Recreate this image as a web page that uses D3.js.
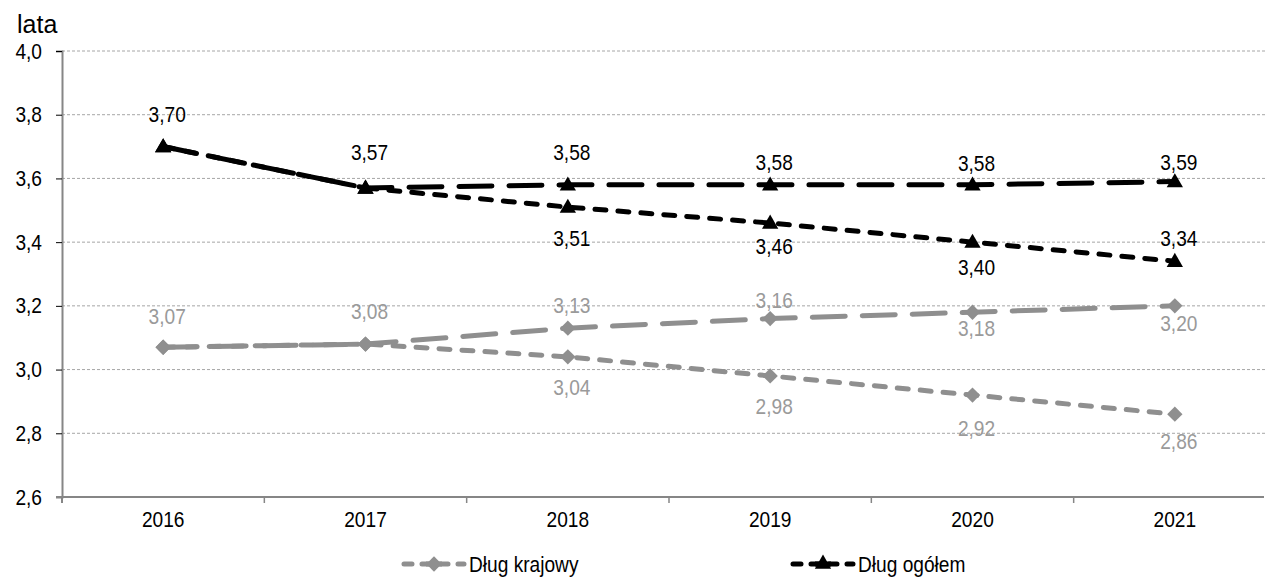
<!DOCTYPE html>
<html>
<head>
<meta charset="utf-8">
<script src="https://cdn.jsdelivr.net/npm/d3@7"></script>
<style>
  body { margin: 0; background: #fff; }
  svg { font-family: "Liberation Sans", Arial, sans-serif; }
</style>
</head>
<body>
<svg id="chart" width="1266" height="578"></svg>
<script>
// data
const years = ['2016', '2017', '2018', '2019', '2020', '2021'];
const yTicks = [2.6, 2.8, 3.0, 3.2, 3.4, 3.6, 3.8, 4.0];

const ogolemA = [3.70, 3.57, 3.58, 3.58, 3.58, 3.59];   // long dash
const ogolemB = [3.70, 3.57, 3.51, 3.46, 3.40, 3.34];   // short dash
const krajowyA = [3.07, 3.08, 3.13, 3.16, 3.18, 3.20];  // long dash
const krajowyB = [3.07, 3.08, 3.04, 2.98, 2.92, 2.86];  // short dash

// label offsets (px from the point), null = no label
const ogolemAOff = [-32, -36, -33, -23, -22, -19];
const ogolemBOff = [null, null, 31, 23, 25, -23];
const krajowyAOff = [-31, -33, -23, -18, 16, 17];
const krajowyBOff = [null, null, 30, 30, 33, 27];

const legendNames = ['Dług krajowy', 'Dług ogółem'];

const svg = d3.select('#chart');
const plotLeft = 62, plotRight = 1276, plotTop = 51, plotBottom = 497;
const squeeze = 0.87;  // text in the original is a bit condensed
const fs = 22;

const x = d3.scaleBand().domain(years).range([plotLeft, plotRight]);
const y = d3.scaleLinear().domain([2.6, 4.0]).range([plotBottom, plotTop]);
const fmt = v => d3.format('.1f')(v).replace('.', ',');
const fmt2 = v => d3.format('.2f')(v).replace('.', ',');

const grey = '#8f8f8f';
const greyText = '#9a9a9a';

// put text at (tx,ty), condensed horizontally
function place(sel, tx, ty) {
  return sel.attr('x', 0).attr('y', 0)
    .attr('transform', (d, i) => `translate(${tx(d, i)},${ty(d, i)}) scale(${squeeze},1)`);
}

// gridlines
svg.append('g').selectAll('line')
  .data(yTicks.filter(t => t > 2.6))
  .enter().append('line')
  .attr('x1', plotLeft).attr('x2', 1266)
  .attr('y1', d => y(d)).attr('y2', d => y(d))
  .attr('stroke', '#a6a6a6')
  .attr('stroke-width', 1)
  .attr('stroke-dasharray', '3,2');

// y axis
const yAxis = svg.append('g')
  .attr('transform', `translate(${plotLeft},0)`)
  .call(d3.axisLeft(y).tickValues(yTicks).tickFormat(fmt).tickSize(6).tickPadding(8));
yAxis.select('.domain').attr('stroke', '#868686').attr('stroke-width', 2);
yAxis.selectAll('.tick line').attr('stroke', '#000');
yAxis.selectAll('.tick text').attr('font-size', fs).attr('fill', '#000')
  .attr('font-family', '"Liberation Sans", Arial, sans-serif')
  .attr('transform', `scale(${squeeze},1)`)
  .attr('x', -20 / squeeze);

// x axis line + boundary ticks
svg.append('line')
  .attr('x1', plotLeft - 6).attr('x2', 1264)
  .attr('y1', plotBottom).attr('y2', plotBottom)
  .attr('stroke', '#868686').attr('stroke-width', 2);
svg.append('g').selectAll('line')
  .data(years.slice(1))
  .enter().append('line')
  .attr('x1', d => x(d)).attr('x2', d => x(d))
  .attr('y1', plotBottom).attr('y2', plotBottom + 6)
  .attr('stroke', '#868686').attr('stroke-width', 1.5);
svg.append('line')
  .attr('x1', plotLeft).attr('x2', plotLeft)
  .attr('y1', plotBottom).attr('y2', plotBottom + 6)
  .attr('stroke', '#868686').attr('stroke-width', 2);
place(svg.append('g').selectAll('text')
  .data(years)
  .enter().append('text'),
  d => x(d) + x.bandwidth() / 2, () => 527)
  .attr('text-anchor', 'middle')
  .attr('font-size', fs)
  .text(d => d);

// unit
svg.append('text').attr('x', 17).attr('y', 33)
  .attr('font-size', 25).text('lata');

const cx = (d, i) => x(years[i]) + x.bandwidth() / 2;
const line = d3.line().x((d, i) => cx(d, i)).y(d => y(d));

const triangle = d3.symbol().type(d3.symbolTriangle).size(115);
const diamond = d3.symbol().type(d3.symbolDiamond2).size(150);

function drawSeries(values, offs, color, textColor, dash, sym) {
  const g = svg.append('g');
  g.append('path')
    .attr('d', line(values))
    .attr('fill', 'none')
    .attr('stroke', color)
    .attr('stroke-width', 5)
    .attr('stroke-linecap', 'round')
    .attr('stroke-dasharray', dash);
  g.selectAll('path.m')
    .data(values)
    .enter().append('path')
    .attr('class', 'm')
    .attr('d', sym)
    .attr('transform', (d, i) => `translate(${cx(d, i)},${y(d) + (sym === triangle ? 1 : 0)})`)
    .attr('fill', color);
  place(g.selectAll('text')
    .data(values.map((v, i) => ({ v, i, o: offs[i] })).filter(d => d.o !== null))
    .enter().append('text'),
    d => cx(d.v, d.i) + 4, d => y(d.v) + d.o)
    .attr('dy', '0.35em')
    .attr('text-anchor', 'middle')
    .attr('font-size', fs)
    .attr('fill', textColor)
    .text(d => fmt2(d.v));
}

drawSeries(krajowyB, krajowyBOff, grey, greyText, '11,12', diamond);
drawSeries(krajowyA, krajowyAOff, grey, greyText, '33,17', diamond);
drawSeries(ogolemB, ogolemBOff, '#000', '#000', '11,12', triangle);
drawSeries(ogolemA, ogolemAOff, '#000', '#000', '33,17', triangle);

// legend
const legend = [
  { name: legendNames[0], color: grey, sym: diamond, x0: 404 },
  { name: legendNames[1], color: '#000', sym: triangle, x0: 793 }
];
const lg = svg.append('g').selectAll('g').data(legend).enter().append('g')
  .attr('transform', d => `translate(${d.x0},564)`);
lg.append('line')
  .attr('x1', 0).attr('x2', 60)
  .attr('stroke', d => d.color)
  .attr('stroke-width', 5)
  .attr('stroke-linecap', 'round')
  .attr('stroke-dasharray', '8,10');
lg.append('path')
  .attr('d', d => d.sym())
  .attr('transform', 'translate(30,0)')
  .attr('fill', d => d.color);
lg.append('path')
  .attr('d', 'M22,0H38')
  .attr('stroke', d => d.color).attr('stroke-width', 5);
place(lg.append('text'), () => 65, () => 0)
  .attr('dy', '0.35em')
  .attr('font-size', fs)
  .text(d => d.name);
</script>
</body>
</html>
